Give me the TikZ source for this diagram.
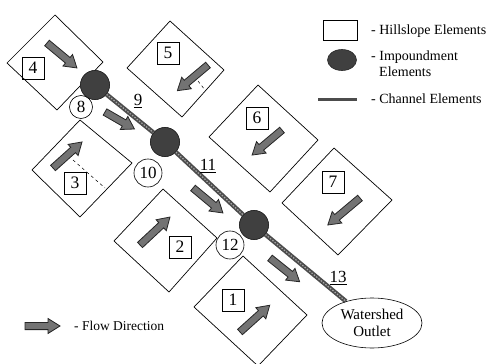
\documentclass[tikz,border=0pt]{standalone}
\usepackage{fontspec}
\setmainfont{Liberation Serif}
\usetikzlibrary{shapes.geometric}
\tikzset{
  pics/farrow/.style={code={
    \filldraw[fill=black!55, draw=black!85, line width=0.8pt]
      (0,-3.6) -- (#1-12,-3.6) -- (#1-12,-7.5) -- (#1,0) -- (#1-12,7.5) -- (#1-12,3.6) -- (0,3.6) -- cycle;}},
}
\begin{document}
\begin{tikzpicture}[x=1pt,y=-1pt,
  hill/.style={draw=black, line width=0.7pt, line join=miter},
  imp/.style={circle, fill=black!75, draw=black!85, line width=0.6pt, minimum size=29pt, inner sep=0pt},
  numbox/.style={draw, line width=0.6pt, minimum size=22pt, inner sep=0pt, font=\fontsize{17.5}{17.5}\selectfont},
  numcirc/.style={circle, draw, line width=0.6pt, fill=white, inner sep=0pt, font=\fontsize{17}{17}\selectfont},
  chanlbl/.style={inner sep=1pt, font=\fontsize{17}{17}\selectfont},
  chan/.style={line width=4.5pt, draw=black!70},
  chanin/.style={line width=1.2pt, draw=black!35, dash pattern=on 1.5pt off 1.5pt},
  legtext/.style={anchor=west, inner sep=0pt, font=\fontsize{14}{14}\selectfont},
]
\useasboundingbox (0,0) rectangle (491,364);

% hillslope elements
\draw[hill] (55,15) -- (103,62) -- (57,110) -- (7,63) -- cycle;
\draw[hill] (170,21) -- (224,70) -- (182,117) -- (127,68) -- cycle;
\draw[hill] (80,120) -- (132,163) -- (80,217) -- (32,170) -- cycle;
\draw[hill] (258,85) -- (318,140) -- (270,192) -- (209,137) -- cycle;
\draw[hill] (334,148) -- (392,200) -- (338,255) -- (282,203) -- cycle;
\draw[hill] (163,189) -- (217,238) -- (169,292) -- (114,241) -- cycle;
\draw[hill] (243,256) -- (307,315) -- (258,366) -- (194,307) -- cycle;

% dashed sub-boundaries
\draw[line width=0.5pt, dashed] (73,160) -- (105,188);
\draw[line width=0.5pt, dashed] (198,81) -- (205,90);

% impoundments and outlet
\node[imp] (i1) at (95,85) {};
\node[imp] (i2) at (165,142) {};
\node[imp] (i3) at (254,225) {};
\node[ellipse, draw, line width=0.6pt, minimum width=100pt, minimum height=50pt, inner sep=0pt, align=center,
      font=\fontsize{15}{17}\selectfont] (out) at (372,323) {Watershed\\Outlet};

% channel elements
\draw[chan] (i1) -- (i2);
\draw[chan] (i2) -- (i3);
\draw[chan] (i3) -- (out);
\draw[chanin] (i1) -- (i2);
\draw[chanin] (i2) -- (i3);
\draw[chanin] (i3) -- (out);
\node[imp] at (i1) {};
\node[imp] at (i2) {};
\node[imp] at (i3) {};

% element numbers
\node[numbox] (n4) at (33,68) {4};
\node[numbox] (n5) at (168,53) {5};
\node[numbox] (n3) at (75,183) {3};
\node[numbox] (n6) at (257,118) {6};
\node[numbox] (n7) at (333,182) {7};
\node[numbox] (n2) at (180,247) {2};
\node[numbox] (n1) at (233,300) {1};
\node[numcirc, minimum size=23pt] (n8) at (81,107) {8};
\node[numcirc, minimum size=28pt] (n10) at (148,173) {10};
\node[numcirc, minimum size=28pt] (n12) at (230,245) {12};
\node[chanlbl] (n9) at (138,101) {\underline{9}};
\node[chanlbl] (n11) at (208,166) {\underline{11}};
\node[chanlbl] (n13) at (338,278) {\underline{13}};

% flow directions
\pic[rotate=-39.8] at (47,43) {farrow=39};
\pic[rotate=-30] at (105,112) {farrow=34};
\pic[rotate=-140] at (208,65) {farrow=40};
\pic[rotate=41.9] at (53,168) {farrow=39};
\pic[rotate=-140] at (282,130) {farrow=39};
\pic[rotate=-140] at (360,198) {farrow=42};
\pic[rotate=-39.8] at (193,188) {farrow=39};
\pic[rotate=43] at (140,245) {farrow=41};
\pic[rotate=42] at (240,332) {farrow=40};
\pic[rotate=-38.7] at (270,258) {farrow=38};

% legend
\draw[line width=0.7pt] (323,20) rectangle (357,40);
\node[legtext] (l1) at (371,31) {- Hillslope Elements};
\node[ellipse, fill=black!75, draw=black!85, line width=0.6pt, minimum width=29pt, minimum height=21pt, inner sep=0pt] (le) at (342,60) {};
\node[legtext] (l2) at (371,57) {- Impoundment};
\node[legtext] (l2b) at (379,72) {Elements};
\coordinate (lc1) at (318,99);
\coordinate (lc2) at (357,99);
\draw[line width=3pt, draw=black!70] (lc1) -- (lc2);
\node[legtext] (l3) at (371,99) {- Channel Elements};
\pic at (25,326) {farrow=35};
\node[legtext, font=\fontsize{13.5}{14}\selectfont] (l4) at (74,326) {- Flow Direction};
\end{tikzpicture}
\end{document}
